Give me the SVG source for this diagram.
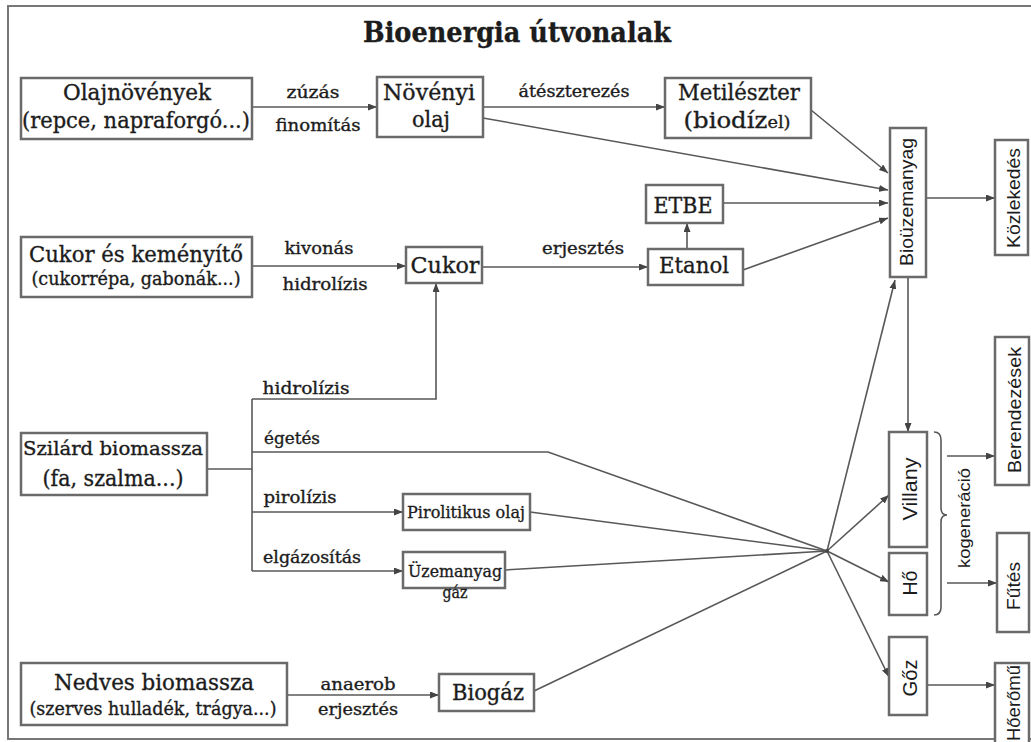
<svg xmlns="http://www.w3.org/2000/svg" width="1031" height="742" viewBox="0 0 1031 742">
<defs>
<marker id="ah" markerUnits="userSpaceOnUse" markerWidth="9" markerHeight="7" refX="9" refY="3.5" orient="auto">
<path d="M0,0 L9,3.5 L0,7 z" fill="#444"/>
</marker>
<style>
.frame{fill:none;stroke:#777;stroke-width:2}
.box{fill:#fff;stroke:#6a6a6a;stroke-width:2.5}
.ln{fill:none;stroke:#585858;stroke-width:1.6}
.arr{marker-end:url(#ah)}
.t{font-family:"DejaVu Serif","Liberation Serif",serif;fill:#1c1c1c;stroke:#1c1c1c;stroke-width:0.35;text-anchor:middle}
.r{font-family:"Liberation Sans","DejaVu Sans",sans-serif;fill:#1c1c1c;text-anchor:middle}
</style>
</defs>
<rect width="1031" height="742" fill="#fff"/>
<rect class="frame" x="8" y="6" width="1030" height="733"/>
<text class="t" x="517" y="42" font-size="27" font-weight="bold" textLength="308" lengthAdjust="spacingAndGlyphs">Bioenergia útvonalak</text>

<g id="connectors">
<line class="ln arr" x1="252" y1="107" x2="377" y2="107"/>
<line class="ln arr" x1="483" y1="107" x2="665" y2="107"/>
<line class="ln arr" x1="483" y1="118" x2="888" y2="190"/>
<line class="ln arr" x1="811" y1="110" x2="888" y2="173"/>
<line class="ln arr" x1="723" y1="203" x2="888" y2="203"/>
<line class="ln arr" x1="743" y1="270" x2="888" y2="218"/>
<line class="ln arr" x1="687" y1="249" x2="687" y2="223"/>
<line class="ln arr" x1="482" y1="267" x2="648" y2="267"/>
<line class="ln arr" x1="252" y1="266" x2="406" y2="266"/>
<line class="ln arr" x1="926" y1="198" x2="995" y2="198"/>
<line class="ln arr" x1="908" y1="277" x2="908" y2="432"/>
<line class="ln" x1="207" y1="469" x2="252" y2="469"/>
<line class="ln" x1="252" y1="399" x2="252" y2="571"/>
<path class="ln arr" d="M252,399 H436 V283"/>
<path class="ln" d="M252,452 H548 L827,551"/>
<line class="ln arr" x1="252" y1="512" x2="403" y2="512"/>
<line class="ln arr" x1="252" y1="571" x2="403" y2="571"/>
<line class="ln" x1="530" y1="512" x2="827" y2="551"/>
<line class="ln" x1="505" y1="570" x2="827" y2="551"/>
<line class="ln" x1="534" y1="691" x2="827" y2="551"/>
<line class="ln arr" x1="287" y1="695" x2="439" y2="695"/>
<line class="ln arr" x1="827" y1="551" x2="895" y2="280"/>
<line class="ln arr" x1="827" y1="551" x2="889" y2="495"/>
<line class="ln arr" x1="827" y1="551" x2="889" y2="582"/>
<line class="ln arr" x1="827" y1="551" x2="889" y2="677"/>
<circle cx="827" cy="551" r="2" fill="#444"/>
<path class="ln" d="M934,432 Q941,432 941,440 V508 Q941,515 947,515 Q941,515 941,522 V607 Q941,615 934,615"/>
<line class="ln arr" x1="947" y1="456" x2="995" y2="456"/>
<line class="ln arr" x1="947" y1="583" x2="997" y2="583"/>
<line class="ln arr" x1="927" y1="685" x2="995" y2="685"/>
</g>

<g id="edge-labels">
<text class="t" x="313" y="98" font-size="16" textLength="53" lengthAdjust="spacingAndGlyphs">zúzás</text>
<text class="t" x="318" y="131" font-size="16" textLength="85" lengthAdjust="spacingAndGlyphs">finomítás</text>
<text class="t" x="574" y="97" font-size="16" textLength="111" lengthAdjust="spacingAndGlyphs">átészterezés</text>
<text class="t" x="319" y="254" font-size="16" textLength="69" lengthAdjust="spacingAndGlyphs">kivonás</text>
<text class="t" x="325" y="290" font-size="16" textLength="85" lengthAdjust="spacingAndGlyphs">hidrolízis</text>
<text class="t" x="583" y="254" font-size="16" textLength="82" lengthAdjust="spacingAndGlyphs">erjesztés</text>
<text class="t" x="306" y="394" font-size="16" textLength="87" lengthAdjust="spacingAndGlyphs">hidrolízis</text>
<text class="t" x="292" y="444" font-size="16" textLength="56" lengthAdjust="spacingAndGlyphs">égetés</text>
<text class="t" x="300" y="503" font-size="16" textLength="73" lengthAdjust="spacingAndGlyphs">pirolízis</text>
<text class="t" x="312" y="563" font-size="16" textLength="98" lengthAdjust="spacingAndGlyphs">elgázosítás</text>
<text class="t" x="358" y="690" font-size="16" textLength="75" lengthAdjust="spacingAndGlyphs">anaerob</text>
<text class="t" x="358" y="715" font-size="16" textLength="80" lengthAdjust="spacingAndGlyphs">erjesztés</text>
<text class="r" transform="translate(970,518) rotate(-90)" font-size="16" textLength="100" lengthAdjust="spacingAndGlyphs">kogeneráció</text>
</g>

<g id="olajnovenyek">
<rect class="box" x="21" y="78" width="231" height="61"/>
<text class="t" x="137" y="100" font-size="22" textLength="148" lengthAdjust="spacingAndGlyphs">Olajnövények</text>
<text class="t" x="136" y="128" font-size="22" textLength="228" lengthAdjust="spacingAndGlyphs">(repce, napraforgó...)</text>
</g>
<g id="novenyi-olaj">
<rect class="box" x="377" y="77" width="106" height="60"/>
<text class="t" x="429" y="100" font-size="22" textLength="92" lengthAdjust="spacingAndGlyphs">Növényi</text>
<text class="t" x="431" y="127" font-size="22" textLength="38" lengthAdjust="spacingAndGlyphs">olaj</text>
</g>
<g id="metileszter">
<rect class="box" x="665" y="78" width="146" height="60"/>
<text class="t" x="739" y="100" font-size="22" textLength="122" lengthAdjust="spacingAndGlyphs">Metilészter</text>
<text class="t" x="737" y="128" font-size="22" textLength="107" lengthAdjust="spacingAndGlyphs">(biodíz<tspan font-size="16">el)</tspan></text>
</g>
<g id="biouzemanyag">
<rect class="box" x="890" y="128" width="36" height="149"/>
<text class="r" transform="translate(913,202) rotate(-90)" font-size="19" textLength="128" lengthAdjust="spacingAndGlyphs">Bioüzemanyag</text>
</g>
<g id="kozlekedes">
<rect class="box" x="995" y="140" width="33" height="115"/>
<text class="r" transform="translate(1020,198) rotate(-90)" font-size="19" textLength="100" lengthAdjust="spacingAndGlyphs">Közlekedés</text>
</g>
<g id="cukor-es-kemenyito">
<rect class="box" x="21" y="237" width="231" height="60"/>
<text class="t" x="136" y="262" font-size="22" textLength="214" lengthAdjust="spacingAndGlyphs">Cukor és keményítő</text>
<text class="t" x="136" y="285" font-size="18" textLength="209" lengthAdjust="spacingAndGlyphs">(cukorrépa, gabonák...)</text>
</g>
<g id="cukor">
<rect class="box" x="406" y="247" width="76" height="36"/>
<text class="t" x="445" y="273" font-size="22" textLength="69" lengthAdjust="spacingAndGlyphs">Cukor</text>
</g>
<g id="etbe">
<rect class="box" x="646" y="185" width="77" height="38"/>
<text class="t" x="683" y="213" font-size="22" textLength="59" lengthAdjust="spacingAndGlyphs">ETBE</text>
</g>
<g id="etanol">
<rect class="box" x="648" y="249" width="95" height="36"/>
<text class="t" x="694" y="273" font-size="22" textLength="70" lengthAdjust="spacingAndGlyphs">Etanol</text>
</g>
<g id="szilard-biomassza">
<rect class="box" x="21" y="433" width="186" height="62"/>
<text class="t" x="113" y="455" font-size="18" textLength="180" lengthAdjust="spacingAndGlyphs">Szilárd biomassza</text>
<text class="t" x="113" y="486" font-size="22" textLength="141" lengthAdjust="spacingAndGlyphs">(fa, szalma...)</text>
</g>
<g id="pirolitikus-olaj">
<rect class="box" x="403" y="494" width="127" height="36"/>
<text class="t" x="466" y="518" font-size="17" textLength="118" lengthAdjust="spacingAndGlyphs">Pirolitikus olaj</text>
</g>
<g id="uzemanyag-gaz">
<rect class="box" x="403" y="552" width="102" height="36"/>
<text class="t" x="455" y="577" font-size="17" textLength="94" lengthAdjust="spacingAndGlyphs">Üzemanyag</text>
<text class="t" x="455" y="598" font-size="17" textLength="25" lengthAdjust="spacingAndGlyphs">gáz</text>
</g>
<g id="nedves-biomassza">
<rect class="box" x="21" y="663" width="266" height="62"/>
<text class="t" x="154" y="690" font-size="22" textLength="200" lengthAdjust="spacingAndGlyphs">Nedves biomassza</text>
<text class="t" x="153" y="715" font-size="18" textLength="247" lengthAdjust="spacingAndGlyphs">(szerves hulladék, trágya...)</text>
</g>
<g id="biogaz">
<rect class="box" x="439" y="674" width="95" height="37"/>
<text class="t" x="488" y="700" font-size="22" textLength="72" lengthAdjust="spacingAndGlyphs">Biogáz</text>
</g>
<g id="villany">
<rect class="box" x="889" y="432" width="38" height="115"/>
<text class="r" transform="translate(917,489) rotate(-90)" font-size="21" textLength="63" lengthAdjust="spacingAndGlyphs">Villany</text>
</g>
<g id="ho">
<rect class="box" x="889" y="553" width="38" height="62"/>
<text class="r" transform="translate(917,583) rotate(-90)" font-size="20" textLength="25" lengthAdjust="spacingAndGlyphs">Hő</text>
</g>
<g id="goz">
<rect class="box" x="889" y="637" width="38" height="78"/>
<text class="r" transform="translate(917,678) rotate(-90)" font-size="20" textLength="37" lengthAdjust="spacingAndGlyphs">Gőz</text>
</g>
<g id="berendezesek">
<rect class="box" x="995" y="337" width="34" height="148"/>
<text class="r" transform="translate(1021,410) rotate(-90)" font-size="19" textLength="126" lengthAdjust="spacingAndGlyphs">Berendezések</text>
</g>
<g id="futes">
<rect class="box" x="997" y="533" width="32" height="99"/>
<text class="r" transform="translate(1020,586) rotate(-90)" font-size="19" textLength="48" lengthAdjust="spacingAndGlyphs">Fűtés</text>
</g>
<g id="hoeromu">
<rect class="box" x="995" y="663" width="34" height="82"/>
<text class="r" transform="translate(1020,703) rotate(-90)" font-size="19" textLength="76" lengthAdjust="spacingAndGlyphs">Hőerőmű</text>
</g>
</svg>
